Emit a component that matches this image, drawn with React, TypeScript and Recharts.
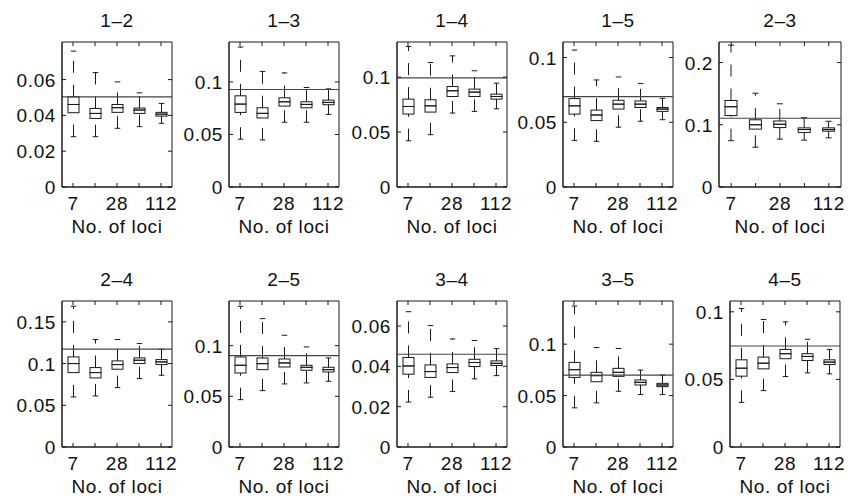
import React from "react";
import { ComposedChart, Bar, XAxis, YAxis, ReferenceLine, ReferenceArea } from "recharts";

// number of loci (log-spaced positions, only 7 / 28 / 112 are labelled)
const LOCI = ["7", "14", "28", "56", "112"];
const LABELED_LOCI = ["7", "28", "112"];

const PAIRS = ["1–2", "1–3", "1–4", "1–5", "2–3", "2–4", "2–5", "3–4", "3–5", "4–5"];

// horizontal reference line of each panel
const TRUE_VALUE = [0.0504, 0.0928, 0.0994, 0.0698, 0.1105, 0.1172, 0.0901, 0.046, 0.07, 0.0747];

// box statistics, one row per panel, one value per number of loci
const LOW = [
  [0.0281, 0.0281, 0.0328, 0.0337, 0.0356],
  [0.0455, 0.0448, 0.0616, 0.0616, 0.0691],
  [0.0421, 0.0476, 0.0673, 0.0688, 0.0712],
  [0.036, 0.0353, 0.0462, 0.0508, 0.052],
  [0.0744, 0.064, 0.0769, 0.0753, 0.079],
  [0.06, 0.0612, 0.0712, 0.082, 0.086],
  [0.0467, 0.0556, 0.0622, 0.0632, 0.0648],
  [0.0223, 0.0247, 0.0275, 0.0338, 0.0354],
  [0.0381, 0.0429, 0.0542, 0.051, 0.051],
  [0.033, 0.0417, 0.0521, 0.0548, 0.0541],
];
const Q1 = [
  [0.0415, 0.0383, 0.0417, 0.0411, 0.0396],
  [0.071, 0.0657, 0.077, 0.0754, 0.0783],
  [0.0664, 0.0682, 0.0824, 0.0824, 0.08],
  [0.0563, 0.0513, 0.0602, 0.0614, 0.0584],
  [0.1148, 0.093, 0.0955, 0.0875, 0.0897],
  [0.0892, 0.0828, 0.0932, 0.1, 0.0988],
  [0.073, 0.0763, 0.0789, 0.0757, 0.074],
  [0.0361, 0.0345, 0.0369, 0.0399, 0.0404],
  [0.0677, 0.0635, 0.0687, 0.0603, 0.0587],
  [0.0524, 0.0578, 0.0653, 0.064, 0.061],
];
const MED = [
  [0.0461, 0.0411, 0.0443, 0.043, 0.0407],
  [0.0789, 0.0701, 0.0811, 0.0786, 0.0805],
  [0.0733, 0.0739, 0.0876, 0.0864, 0.0824],
  [0.0627, 0.0556, 0.064, 0.064, 0.0602],
  [0.129, 0.1, 0.1008, 0.0923, 0.0923],
  [0.1, 0.0892, 0.0988, 0.104, 0.102],
  [0.0806, 0.0822, 0.0829, 0.0786, 0.0763],
  [0.0402, 0.0374, 0.0394, 0.0419, 0.0415],
  [0.0752, 0.0694, 0.0726, 0.0629, 0.0603],
  [0.0583, 0.062, 0.069, 0.067, 0.0628],
];
const Q3 = [
  [0.0504, 0.0439, 0.0461, 0.0441, 0.0417],
  [0.0868, 0.0754, 0.0849, 0.0811, 0.0827],
  [0.08, 0.0794, 0.0915, 0.0891, 0.0845],
  [0.0683, 0.0594, 0.067, 0.0665, 0.0614],
  [0.139, 0.108, 0.1061, 0.095, 0.095],
  [0.108, 0.0952, 0.1032, 0.1068, 0.1048],
  [0.0888, 0.0878, 0.0868, 0.0806, 0.0786],
  [0.0444, 0.0407, 0.0412, 0.0435, 0.0427],
  [0.0823, 0.0726, 0.0765, 0.0652, 0.0619],
  [0.0645, 0.0665, 0.0722, 0.069, 0.0645],
];
const HIGH = [
  [0.0759, 0.0639, 0.0587, 0.0526, 0.0467],
  [0.1332, 0.11, 0.1086, 0.0947, 0.0934],
  [0.1279, 0.1133, 0.1194, 0.1058, 0.0945],
  [0.1058, 0.0827, 0.085, 0.08, 0.0685],
  [0.228, 0.1507, 0.1337, 0.1114, 0.1056],
  [0.1688, 0.1288, 0.1288, 0.124, 0.1172],
  [0.1388, 0.1266, 0.1102, 0.0987, 0.0878],
  [0.0671, 0.0602, 0.0536, 0.0528, 0.0488],
  [0.1371, 0.0968, 0.0958, 0.0748, 0.07],
  [0.1025, 0.0943, 0.0926, 0.0797, 0.0722],
];

const Y_MAX = [0.081, 0.138, 0.132, 0.112, 0.233, 0.175, 0.144, 0.0724, 0.142, 0.108];
const Y_TICKS = [
  [0, 0.02, 0.04, 0.06],
  [0, 0.05, 0.1],
  [0, 0.05, 0.1],
  [0, 0.05, 0.1],
  [0, 0.1, 0.2],
  [0, 0.05, 0.1, 0.15],
  [0, 0.05, 0.1],
  [0, 0.02, 0.04, 0.06],
  [0, 0.05, 0.1],
  [0, 0.05, 0.1],
];

const FONT = "'Liberation Sans', Arial, Helvetica, sans-serif";
const INK = "#1a1a1a";
const TEXT = { fontFamily: FONT, fontSize: 19, fill: "#111", letterSpacing: 0.6 };

// plot-area placement of the subplots
const COL_X = [62, 229, 397, 563, 730];
const ROW_Y = [42, 301];
const ROW_H = [145, 146];

// x ticks point inwards, on the bottom and the top edge of the frame
function BottomTick({ x, y, payload, ph }: any) {
  return (
    <g>
      <line x1={x} x2={x} y1={y} y2={y - 4} stroke={INK} />
      <line x1={x} x2={x} y1={y - ph} y2={y - ph + 4} stroke={INK} />
      {LABELED_LOCI.includes(payload.value) && (
        <text x={x} y={y + 23} textAnchor="middle" {...TEXT}>
          {payload.value}
        </text>
      )}
    </g>
  );
}

// y ticks point inwards, on the left and the right edge of the frame
function LeftTick({ x, y, payload, pw }: any) {
  return (
    <g>
      <line x1={x} x2={x + 4} y1={y} y2={y} stroke={INK} />
      <line x1={x + pw} x2={x + pw - 4} y1={y} y2={y} stroke={INK} />
      <text x={x - 6} y={y + 7} textAnchor="end" {...TEXT}>
        {String(payload.value)}
      </text>
    </g>
  );
}

// whiskers are drawn from the lower end upwards, dashed, with a short cap
function LowerWhisker({ x, y, width, height }: any) {
  const cx = x + width / 2;
  const cap = width / 4;
  return (
    <g>
      <line x1={cx} x2={cx} y1={y + height} y2={y} stroke={INK} strokeDasharray="12 12" />
      <line x1={cx - cap} x2={cx + cap} y1={y + height} y2={y + height} stroke={INK} />
    </g>
  );
}

function UpperWhisker({ x, y, width, height }: any) {
  const cx = x + width / 2;
  const cap = width / 4;
  return (
    <g>
      <line x1={cx} x2={cx} y1={y + height} y2={y} stroke={INK} strokeDasharray="12 12" />
      <line x1={cx - cap} x2={cx + cap} y1={y} y2={y} stroke={INK} />
    </g>
  );
}

function BoxHalf({ x, y, width, height }: any) {
  return <rect x={x} y={y} width={width} height={height} fill="none" stroke={INK} />;
}

function Panel({ i }: { i: number }) {
  const row = Math.floor(i / 5);
  const col = i % 5;
  const px = i === 4 ? 719 : COL_X[col];
  const pw = i === 4 ? 122 : 110;
  const py = ROW_Y[row];
  const ph = ROW_H[row];
  const data = LOCI.map((n, j) => ({
    n,
    lo: LOW[i][j],
    q1: Q1[i][j],
    med: MED[i][j],
    q3: Q3[i][j],
    hi: HIGH[i][j],
  }));

  return (
    <div style={{ position: "absolute", left: px - 60, top: py - 40 }}>
      <ComposedChart
        width={60 + pw + 8}
        height={40 + ph + 50}
        data={data}
        margin={{ top: 40, right: 8, bottom: 0, left: 0 }}
        barSize={Math.round(pw / 10)}
      >
        <XAxis
          dataKey="n"
          type="category"
          height={50}
          interval={0}
          tickSize={0}
          tickMargin={0}
          tickLine={false}
          axisLine={{ stroke: INK }}
          tick={<BottomTick ph={ph} />}
          label={{ value: "No. of loci", position: "insideBottom", offset: 4, ...TEXT }}
        />
        <YAxis
          type="number"
          width={60}
          domain={[0, Y_MAX[i]]}
          ticks={Y_TICKS[i]}
          interval={0}
          allowDataOverflow
          tickSize={0}
          tickMargin={0}
          tickLine={false}
          axisLine={{ stroke: INK }}
          tick={<LeftTick pw={pw} />}
        />
        <ReferenceArea
          y1={0}
          y2={Y_MAX[i]}
          fill="none"
          fillOpacity={0}
          stroke={INK}
          strokeWidth={1}
          label={{ value: PAIRS[i], position: "top", offset: 15, ...TEXT }}
        />
        <Bar dataKey="lo" stackId="box" fill="none" isAnimationActive={false} />
        <Bar
          dataKey={(d: any) => d.q1 - d.lo}
          stackId="box"
          shape={<LowerWhisker />}
          isAnimationActive={false}
        />
        <Bar
          dataKey={(d: any) => d.med - d.q1}
          stackId="box"
          shape={<BoxHalf />}
          isAnimationActive={false}
        />
        <Bar
          dataKey={(d: any) => d.q3 - d.med}
          stackId="box"
          shape={<BoxHalf />}
          isAnimationActive={false}
        />
        <Bar
          dataKey={(d: any) => d.hi - d.q3}
          stackId="box"
          shape={<UpperWhisker />}
          isAnimationActive={false}
        />
        <ReferenceLine y={TRUE_VALUE[i]} stroke="#444" strokeWidth={1.2} />
      </ComposedChart>
    </div>
  );
}

export default function App() {
  return (
    <div
      style={{
        position: "absolute",
        left: 0,
        top: 0,
        width: 848,
        height: 502,
        background: "#fff",
        overflow: "hidden",
      }}
    >
      {PAIRS.map((pair, i) => (
        <Panel key={pair} i={i} />
      ))}
    </div>
  );
}
